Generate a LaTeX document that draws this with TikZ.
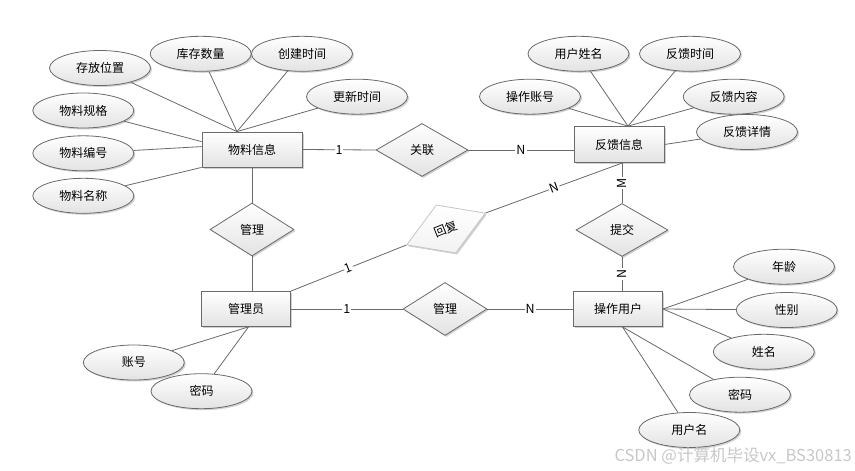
\documentclass[tikz,border=0pt]{standalone}
\usepackage{fontspec}
\setmainfont{Noto Sans CJK SC}
\usetikzlibrary{shapes.geometric,shadows,calc}
\definecolor{linegray}{HTML}{6A6A6A}
\definecolor{wmgray}{HTML}{C8C8C8}
\begin{document}
\begin{tikzpicture}[x=1pt,y=-1pt,
  every node/.style={font=\fontsize{12}{14}\selectfont},
  base/.style={draw=linegray, line width=0.8pt, top color=white, bottom color=gray!22,
    drop shadow={shadow xshift=1.5pt,shadow yshift=-1.5pt,fill=black,opacity=0.18}},
  ent/.style={base, rectangle, minimum width=90pt, minimum height=35pt, inner sep=0pt},
  attr/.style={base, ellipse, minimum width=101pt, minimum height=35pt, inner sep=0pt},
  rel/.style={base, diamond, minimum width=92pt, minimum height=53pt, inner sep=0pt},
  conn/.style={draw=linegray, line width=0.8pt},
  card/.style={fill=white, inner sep=1pt, font=\fontsize{12.5}{14}\selectfont},
]
\useasboundingbox[fill=white] (0,0) rectangle (855,471);

% entities
\node[ent, minimum width=100pt] (wl) at (252,149.5) {物料信息};
\node[ent, minimum height=36pt] (fk) at (619,144.5) {反馈信息};
\node[ent, minimum width=89pt] (gly) at (246,309) {管理员};
\node[ent, minimum width=89pt] (cz) at (618,309) {操作用户};

% relationships
\node[rel] (gl) at (422,150) {关联};
\node[rel, minimum width=84pt] (gla) at (252,229.5) {管理};
\node[rel, minimum width=84pt] (glb) at (445,309) {管理};
\node[rel] (tj) at (622,230) {提交};
\node[base, diamond, draw=gray!45, bottom color=gray!10, minimum width=85pt, minimum height=52pt, inner sep=0pt, rotate=22] (hf) at (446,229) {回复};

% attributes of 物料信息
\node[attr] (a1) at (100,68) {存放位置};
\node[attr] (a2) at (200.7,53.8) {库存数量};
\node[attr] (a3) at (302,53.8) {创建时间};
\node[attr] (a4) at (357,96.7) {更新时间};
\node[attr] (a5) at (83.3,110.5) {物料规格};
\node[attr] (a6) at (83.3,153.3) {物料编号};
\node[attr] (a7) at (83.3,195.8) {物料名称};

% attributes of 反馈信息
\node[attr] (b1) at (530,96.7) {操作账号};
\node[attr] (b2) at (578.5,53.8) {用户姓名};
\node[attr] (b3) at (690,53.8) {反馈时间};
\node[attr] (b4) at (733.7,96.7) {反馈内容};
\node[attr] (b5) at (747,132) {反馈详情};

% attributes of 操作用户
\node[attr] (c1) at (784,266.7) {年龄};
\node[attr] (c2) at (786.7,310) {性别};
\node[attr] (c3) at (763.8,351.8) {姓名};
\node[attr] (c4) at (740,394.7) {密码};
\node[attr] (c5) at (689.3,430) {用户名};

% attributes of 管理员
\node[attr] (d1) at (133.8,362.5) {账号};
\node[attr] (d2) at (201.5,391.2) {密码};

% anchor points
\coordinate (wlT) at ($(wl.north)+(-15,0)$);
\coordinate (wlL1) at ($(wl.north west)+(0,10)$);
\coordinate (wlL2) at ($(wl.north west)+(0,15)$);
\coordinate (fkT) at ($(fk.north)+(9,0)$);
\coordinate (fkL) at (fk.west |- gl.east);
\coordinate (fkB) at (tj.north |- fk.south);
\coordinate (fkB2) at ($(fk.south)+(3.5,0)$);
\coordinate (czT) at (tj.south |- cz.north);
\coordinate (czB) at ($(cz.south)+(4.5,0)$);
\coordinate (glyT) at (gla.south |- gly.north);
\coordinate (glyB) at ($(gly.south)+(2.5,0)$);

% attribute connectors
\foreach \n in {a1,a2,a3,a4} \draw[conn] (\n) -- (wlT);
\draw[conn] (a5) -- (wlL1);
\draw[conn] (a6) -- (wlL2);
\draw[conn] (a7) -- (wl.south west);
\foreach \n in {b1,b2,b3,b4} \draw[conn] (\n) -- (fkT);
\draw[conn] (b5) -- (fk.east);
\foreach \n in {c1,c2,c3} \draw[conn] (\n) -- (cz.east);
\foreach \n in {c4,c5} \draw[conn] (\n) -- (czB);
\foreach \n in {d1,d2} \draw[conn] (\n) -- (glyB);

% relationship connectors
\draw[conn] (wl.east) -- node[card] {1} (gl.west);
\draw[conn] (gl.east) -- node[card] {N} (fkL);
\draw[conn] (wl.south) -- (gla.north);
\draw[conn] (gla.south) -- (glyT);
\draw[conn] (gly.north east) -- node[card, sloped] {1} (hf.west);
\draw[conn] (hf.east) -- node[card, sloped] {N} (fkB2);
\draw[conn] (fkB) -- node[card, rotate=90] {M} (tj.north);
\draw[conn] (tj.south) -- node[card, rotate=90] {N} (czT);
\draw[conn] (gly.east) -- node[card] {1} (glb.west);
\draw[conn] (glb.east) -- node[card] {N} (cz.west);

% watermark
\node[anchor=east, text=wmgray, inner sep=0pt, font=\fontsize{16.5}{18}\selectfont] (wm) at (852,456) {CSDN @计算机毕设vx\_BS30813};
\end{tikzpicture}
\end{document}
